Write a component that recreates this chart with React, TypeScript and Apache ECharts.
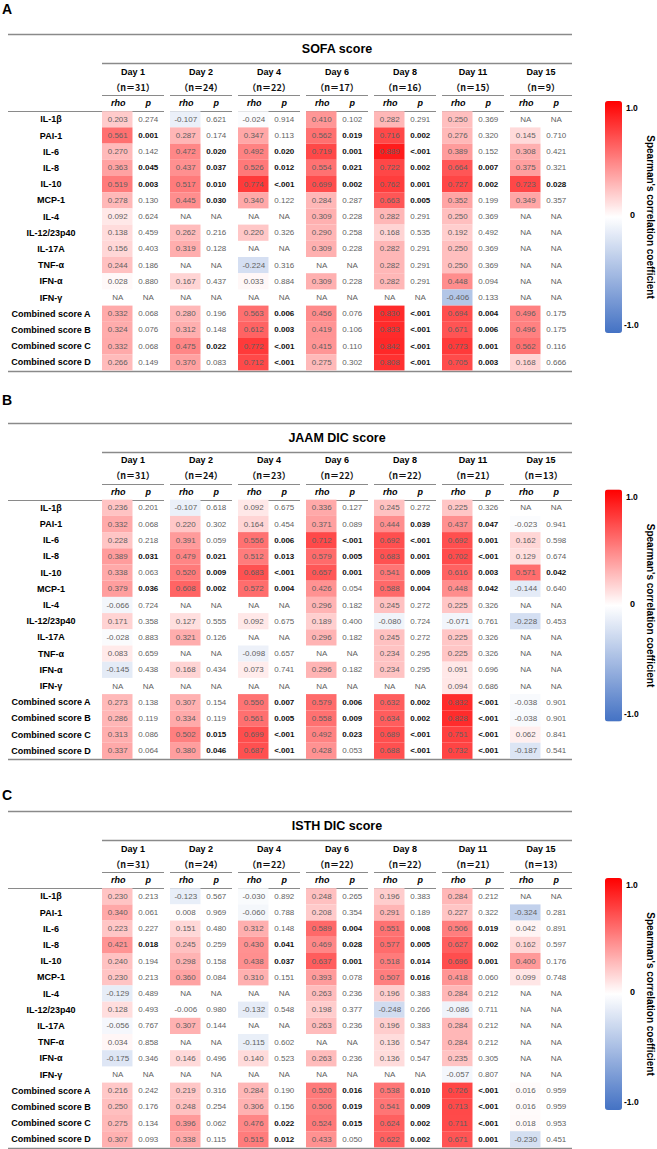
import React, { useEffect, useRef } from "react";
import * as echarts from "echarts";

const DAYS = ["Day 1", "Day 2", "Day 4", "Day 6", "Day 8", "Day 11", "Day 15"];
const MARKERS = [
  "IL-1β", "PAI-1", "IL-6", "IL-8", "IL-10", "MCP-1", "IL-4", "IL-12/23p40",
  "IL-17A", "TNF-α", "IFN-α", "IFN-γ",
  "Combined score A", "Combined score B", "Combined score C", "Combined score D",
];

// ---------- A: SOFA score ----------
const SOFA_N = [31, 24, 22, 17, 16, 15, 9];
const SOFA_RHO: (number | null)[][] = [
  [0.203, -0.107, -0.024, 0.410, 0.282, 0.250, null],
  [0.561, 0.287, 0.347, 0.562, 0.716, 0.276, 0.145],
  [0.270, 0.472, 0.492, 0.719, 0.889, 0.389, 0.308],
  [0.363, 0.437, 0.526, 0.554, 0.722, 0.664, 0.375],
  [0.519, 0.517, 0.774, 0.699, 0.762, 0.727, 0.723],
  [0.278, 0.445, 0.340, 0.284, 0.663, 0.352, 0.349],
  [0.092, null, null, 0.309, 0.282, 0.250, null],
  [0.138, 0.262, 0.220, 0.290, 0.168, 0.192, null],
  [0.156, 0.319, null, 0.309, 0.282, 0.250, null],
  [0.244, null, -0.224, null, 0.282, 0.250, null],
  [0.028, 0.167, 0.033, 0.309, 0.282, 0.448, null],
  [null, null, null, null, null, -0.406, null],
  [0.332, 0.280, 0.563, 0.456, 0.830, 0.694, 0.496],
  [0.324, 0.312, 0.612, 0.419, 0.833, 0.671, 0.496],
  [0.332, 0.475, 0.772, 0.415, 0.842, 0.773, 0.562],
  [0.266, 0.370, 0.712, 0.275, 0.808, 0.705, 0.168],
];
const SOFA_P: string[][] = [
  ["0.274", "0.621", "0.914", "0.102", "0.291", "0.369", "NA"],
  ["0.001", "0.174", "0.113", "0.019", "0.002", "0.320", "0.710"],
  ["0.142", "0.020", "0.020", "0.001", "<.001", "0.152", "0.421"],
  ["0.045", "0.037", "0.012", "0.021", "0.002", "0.007", "0.321"],
  ["0.003", "0.010", "<.001", "0.002", "0.001", "0.002", "0.028"],
  ["0.130", "0.030", "0.122", "0.287", "0.005", "0.199", "0.357"],
  ["0.624", "NA", "NA", "0.228", "0.291", "0.369", "NA"],
  ["0.459", "0.216", "0.326", "0.258", "0.535", "0.492", "NA"],
  ["0.403", "0.128", "NA", "0.228", "0.291", "0.369", "NA"],
  ["0.186", "NA", "0.316", "NA", "0.291", "0.369", "NA"],
  ["0.880", "0.437", "0.884", "0.228", "0.291", "0.094", "NA"],
  ["NA", "NA", "NA", "NA", "NA", "0.133", "NA"],
  ["0.068", "0.196", "0.006", "0.076", "<.001", "0.004", "0.175"],
  ["0.076", "0.148", "0.003", "0.106", "<.001", "0.006", "0.175"],
  ["0.068", "0.022", "<.001", "0.110", "<.001", "0.001", "0.116"],
  ["0.149", "0.083", "<.001", "0.302", "<.001", "0.003", "0.666"],
];

// ---------- B: JAAM DIC score ----------
const JAAM_N = [31, 24, 23, 22, 22, 21, 13];
const JAAM_RHO: (number | null)[][] = [
  [0.236, -0.107, 0.092, 0.336, 0.245, 0.225, null],
  [0.332, 0.220, 0.164, 0.371, 0.444, 0.437, -0.023],
  [0.228, 0.391, 0.556, 0.712, 0.692, 0.692, 0.162],
  [0.389, 0.479, 0.512, 0.579, 0.683, 0.702, 0.129],
  [0.338, 0.520, 0.683, 0.657, 0.541, 0.616, 0.571],
  [0.379, 0.608, 0.572, 0.426, 0.588, 0.448, -0.144],
  [-0.066, null, null, 0.296, 0.245, 0.225, null],
  [0.171, 0.127, 0.092, 0.189, -0.080, -0.071, -0.228],
  [-0.028, 0.321, null, 0.296, 0.245, 0.225, null],
  [0.083, null, -0.098, null, 0.234, 0.225, null],
  [-0.145, 0.168, 0.073, 0.296, 0.234, 0.091, null],
  [null, null, null, null, null, 0.094, null],
  [0.273, 0.307, 0.550, 0.579, 0.632, 0.832, -0.038],
  [0.286, 0.334, 0.561, 0.558, 0.634, 0.828, -0.038],
  [0.313, 0.502, 0.699, 0.492, 0.689, 0.751, 0.062],
  [0.337, 0.380, 0.687, 0.428, 0.688, 0.732, -0.187],
];
const JAAM_P: string[][] = [
  ["0.201", "0.618", "0.675", "0.127", "0.272", "0.326", "NA"],
  ["0.068", "0.302", "0.454", "0.089", "0.039", "0.047", "0.941"],
  ["0.218", "0.059", "0.006", "<.001", "<.001", "0.001", "0.598"],
  ["0.031", "0.021", "0.013", "0.005", "0.001", "<.001", "0.674"],
  ["0.063", "0.009", "<.001", "0.001", "0.009", "0.003", "0.042"],
  ["0.036", "0.002", "0.004", "0.054", "0.004", "0.042", "0.640"],
  ["0.724", "NA", "NA", "0.182", "0.272", "0.326", "NA"],
  ["0.358", "0.555", "0.675", "0.400", "0.724", "0.761", "0.453"],
  ["0.883", "0.126", "NA", "0.182", "0.272", "0.326", "NA"],
  ["0.659", "NA", "0.657", "NA", "0.295", "0.326", "NA"],
  ["0.438", "0.434", "0.741", "0.182", "0.295", "0.696", "NA"],
  ["NA", "NA", "NA", "NA", "NA", "0.686", "NA"],
  ["0.138", "0.154", "0.007", "0.006", "0.002", "<.001", "0.901"],
  ["0.119", "0.119", "0.005", "0.009", "0.002", "<.001", "0.901"],
  ["0.086", "0.015", "<.001", "0.023", "<.001", "<.001", "0.841"],
  ["0.064", "0.046", "<.001", "0.053", "<.001", "<.001", "0.541"],
];

// ---------- C: ISTH DIC score ----------
const ISTH_N = [31, 24, 22, 22, 22, 21, 13];
const ISTH_RHO: (number | null)[][] = [
  [0.230, -0.123, -0.030, 0.248, 0.196, 0.284, null],
  [0.340, 0.008, -0.060, 0.208, 0.291, 0.227, -0.324],
  [0.223, 0.151, 0.312, 0.589, 0.551, 0.506, 0.042],
  [0.421, 0.245, 0.430, 0.469, 0.577, 0.627, 0.162],
  [0.240, 0.298, 0.438, 0.637, 0.518, 0.696, 0.400],
  [0.230, 0.360, 0.310, 0.393, 0.507, 0.418, 0.099],
  [-0.129, null, null, 0.263, 0.196, 0.284, null],
  [0.128, -0.006, -0.132, 0.198, -0.248, -0.086, null],
  [-0.056, 0.307, null, 0.263, 0.196, 0.284, null],
  [0.034, null, -0.115, null, 0.136, 0.284, null],
  [-0.175, 0.146, 0.140, 0.263, 0.136, 0.235, null],
  [null, null, null, null, null, -0.057, null],
  [0.216, 0.219, 0.284, 0.520, 0.538, 0.726, 0.016],
  [0.250, 0.248, 0.306, 0.506, 0.541, 0.713, 0.016],
  [0.275, 0.396, 0.476, 0.524, 0.624, 0.711, 0.018],
  [0.307, 0.338, 0.515, 0.433, 0.622, 0.671, -0.230],
];
const ISTH_P: string[][] = [
  ["0.213", "0.567", "0.892", "0.265", "0.383", "0.212", "NA"],
  ["0.061", "0.969", "0.788", "0.354", "0.189", "0.322", "0.281"],
  ["0.227", "0.480", "0.148", "0.004", "0.008", "0.019", "0.891"],
  ["0.018", "0.259", "0.041", "0.028", "0.005", "0.002", "0.597"],
  ["0.194", "0.158", "0.037", "0.001", "0.014", "0.001", "0.176"],
  ["0.213", "0.084", "0.151", "0.078", "0.016", "0.060", "0.748"],
  ["0.489", "NA", "NA", "0.236", "0.383", "0.212", "NA"],
  ["0.493", "0.980", "0.548", "0.377", "0.266", "0.711", "NA"],
  ["0.767", "0.144", "NA", "0.236", "0.383", "0.212", "NA"],
  ["0.858", "NA", "0.602", "NA", "0.547", "0.212", "NA"],
  ["0.346", "0.496", "0.523", "0.236", "0.547", "0.305", "NA"],
  ["NA", "NA", "NA", "NA", "NA", "0.807", "NA"],
  ["0.242", "0.316", "0.190", "0.016", "0.010", "<.001", "0.959"],
  ["0.176", "0.254", "0.156", "0.019", "0.009", "<.001", "0.959"],
  ["0.134", "0.062", "0.022", "0.015", "0.002", "<.001", "0.953"],
  ["0.093", "0.115", "0.012", "0.050", "0.002", "0.001", "0.451"],
];

const LEGEND_TICKS = ["1.0", "0", "-1.0"];
const LEGEND_TITLE = "Spearman's correlation coefficient";

// ---------- layout / style ----------
const FONT = "Liberation Sans";
const CJK = "Noto Sans CJK JP";
const LINE_COLOR = "#8a8a8a";
const NUM_COLOR = "#5f5f5f";
const GRID_LEFT = 102;
const UNIT_PX = 68;
const GROUP_PX = 62;
const RHO_PX = 30.5;
const P_CENTER_PX = 46.3;
const ROW_PX = 16.2;
const TABLE_LEFT = 8;
const TABLE_RIGHT = 572;
const BAR_LEFT = 605;

const PANELS = [
  { letter: "A", letterY: 8.5, title: "SOFA score", top: 34, n: SOFA_N, rho: SOFA_RHO, p: SOFA_P },
  { letter: "B", letterY: 400, title: "JAAM DIC score", top: 422.5, n: JAAM_N, rho: JAAM_RHO, p: JAAM_P },
  { letter: "C", letterY: 795, title: "ISTH DIC score", top: 811, n: ISTH_N, rho: ISTH_RHO, p: ISTH_P },
];

function isSig(p: string) {
  if (p === "<.001") return true;
  const v = parseFloat(p);
  return !isNaN(v) && v < 0.05;
}

function txt(text: string, x: number, y: number, o: any = {}) {
  const align = o.align || "center";
  return {
    type: "text",
    x,
    y,
    rotation: o.rotation || 0,
    silent: true,
    style: {
      text,
      x: 0,
      y: 0,
      fill: o.fill || "#000",
      fontSize: o.size || 9,
      fontWeight: o.weight || "bold",
      fontStyle: o.style || "normal",
      fontFamily: o.family || FONT,
      align,
      textAlign: align,
      verticalAlign: "middle",
      textVerticalAlign: "middle",
    },
  };
}

function hline(x1: number, x2: number, y: number, w = 1) {
  const yy = Math.round(y) + 0.5;
  return {
    type: "line",
    silent: true,
    shape: { x1, y1: yy, x2, y2: yy },
    style: { stroke: LINE_COLOR, lineWidth: w },
  };
}

function buildOption() {
  const grids: any[] = [];
  const xAxes: any[] = [];
  const yAxes: any[] = [];
  const series: any[] = [];
  const visualMaps: any[] = [];
  const graphics: any[] = [];

  PANELS.forEach((pn, i) => {
    const T = pn.top;
    grids.push({
      left: GRID_LEFT,
      top: T + 77.2,
      width: UNIT_PX * DAYS.length,
      height: ROW_PX * MARKERS.length,
      containLabel: false,
    });
    xAxes.push({ type: "value", gridIndex: i, min: 0, max: DAYS.length, show: false });
    yAxes.push({
      type: "category",
      gridIndex: i,
      data: MARKERS,
      inverse: true,
      axisLine: { show: false },
      axisTick: { show: false },
      splitLine: { show: false },
      axisLabel: {
        interval: 0,
        align: "center",
        margin: GRID_LEFT - 51,
        fontFamily: FONT,
        fontSize: 9,
        fontWeight: "bold",
        color: "#000",
      },
    });

    const items: { d: number; r: number; rho: number | null; p: string }[] = [];
    pn.rho.forEach((row, r) =>
      row.forEach((v, d) => items.push({ d, r, rho: v, p: pn.p[r][d] }))
    );

    series.push({
      type: "custom",
      coordinateSystem: "cartesian2d",
      xAxisIndex: i,
      yAxisIndex: i,
      clip: false,
      silent: true,
      encode: { x: 0, y: 1 },
      data: items.map((it) => [it.d, it.r, it.rho === null ? 0 : it.rho]),
      renderItem: (params: any, api: any) => {
        const it = items[params.dataIndex];
        const pt = api.coord([it.d, it.r]);
        const size = api.size([1, 1]);
        const k = size[0] / UNIT_PX;
        const h = size[1];
        const x0 = pt[0];
        const yc = pt[1];
        const children: any[] = [];
        if (it.rho !== null) {
          children.push({
            type: "rect",
            shape: { x: x0, y: yc - h / 2, width: RHO_PX * k, height: h },
            style: { fill: api.visual("color") },
          });
        }
        const rhoTxt = it.rho === null ? "NA" : it.rho.toFixed(3);
        children.push(
          txt(rhoTxt, x0 + (RHO_PX * k) / 2 + 0.5, yc, { size: 8, weight: "normal", fill: NUM_COLOR })
        );
        const sig = isSig(it.p);
        children.push(
          txt(it.p, x0 + P_CENTER_PX * k, yc, {
            size: 8,
            weight: sig ? "bold" : "normal",
            fill: sig ? "#111" : NUM_COLOR,
          })
        );
        return { type: "group", children };
      },
    });

    visualMaps.push({
      type: "continuous",
      seriesIndex: i,
      dimension: 2,
      min: -1,
      max: 1,
      orient: "vertical",
      left: BAR_LEFT,
      top: T + 67,
      itemWidth: 17,
      itemHeight: 232,
      padding: 0,
      calculable: false,
      realtime: false,
      hoverLink: false,
      inRange: { color: ["#4472C4", "#FFFFFF", "#FF0000"] },
    });

    // panel letter
    graphics.push(txt(pn.letter, 2, pn.letterY, { size: 14, align: "left" }));
    // rules
    graphics.push(hline(TABLE_LEFT, TABLE_RIGHT, T, 1.3));
    graphics.push(txt(pn.title, (GRID_LEFT + TABLE_RIGHT) / 2, T + 15, { size: 12.5 }));
    graphics.push(hline(GRID_LEFT, TABLE_RIGHT, T + 29, 1.3));
    DAYS.forEach((day, d) => {
      const gx = GRID_LEFT + UNIT_PX * d;
      const cx = gx + GROUP_PX / 2;
      graphics.push(txt(day, cx, T + 37.5, { size: 9 }));
      graphics.push(
        txt(`（n＝${pn.n[d]}）`, cx, T + 53, { size: 9, family: CJK, weight: "bold", fill: "#111" })
      );
      graphics.push(hline(gx, gx + GROUP_PX, T + 61, 1.2));
      graphics.push(txt("rho", gx + 16.3, T + 69, { size: 9, style: "italic" }));
      graphics.push(txt("p", gx + P_CENTER_PX, T + 69, { size: 9, style: "italic" }));
      graphics.push(hline(d === 0 ? TABLE_LEFT : gx, gx + GROUP_PX, T + 77, 1.2));
    });
    graphics.push(hline(TABLE_LEFT, TABLE_RIGHT, T + 336.5, 1.3));

    // legend labels
    graphics.push(txt(LEGEND_TICKS[0], 626, T + 74, { size: 8.5, align: "left" }));
    graphics.push(txt(LEGEND_TICKS[1], 630, T + 181, { size: 9, align: "left" }));
    graphics.push(txt(LEGEND_TICKS[2], 624, T + 291, { size: 8.5, align: "left" }));
    graphics.push(txt(LEGEND_TITLE, 650, T + 183, { size: 10, rotation: -Math.PI / 2 }));
  });

  return {
    animation: false,
    backgroundColor: "#ffffff",
    grid: grids,
    xAxis: xAxes,
    yAxis: yAxes,
    visualMap: visualMaps,
    series,
    graphic: { elements: graphics },
  };
}

export default function App() {
  const ref = useRef<HTMLDivElement>(null);
  useEffect(() => {
    if (!ref.current) return;
    const chart = echarts.init(ref.current, undefined, { renderer: "svg" });
    chart.setOption(buildOption() as any);
    return () => chart.dispose();
  }, []);
  return (
    <div
      ref={ref}
      style={{ position: "absolute", left: 0, top: 0, width: 657, height: 1149, background: "#fff" }}
    />
  );
}
